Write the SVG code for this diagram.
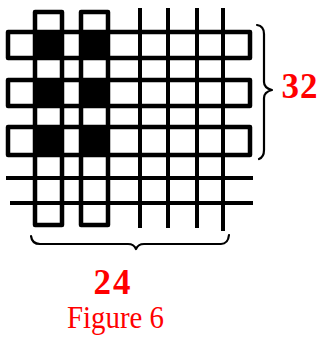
<svg xmlns="http://www.w3.org/2000/svg" width="320" height="338" viewBox="0 0 320 338">
<style>
.g{fill:none;stroke:#000;stroke-width:4;stroke-linecap:square}
.r{fill:none;stroke:#000;stroke-width:4.5;stroke-linejoin:round}
.f{fill:#000}
.b{fill:none;stroke:#000;stroke-width:2.2;stroke-linecap:round;stroke-linejoin:round}
.t{fill:#ff0000;font-family:"Liberation Serif","Times New Roman",serif}
</style>
<rect width="320" height="338" fill="#fff"/>
<g id="grid">
<g id="fills">
<rect class="f" x="35" y="32" width="27" height="26"/>
<rect class="f" x="81" y="32" width="27" height="26"/>
<rect class="f" x="35" y="80" width="27" height="26"/>
<rect class="f" x="81" y="80" width="27" height="26"/>
<rect class="f" x="35" y="127" width="27" height="28"/>
<rect class="f" x="81" y="127" width="27" height="28"/>
</g>
<g id="horizontal-strips">
<rect class="r" x="8" y="32" width="242" height="26"/>
<rect class="r" x="8" y="80" width="242" height="26"/>
<rect class="r" x="8" y="127" width="242" height="28"/>
<line class="g" x1="8" y1="178" x2="251" y2="178"/>
<line class="g" x1="12" y1="203" x2="251" y2="203"/>
</g>
<g id="vertical-strips">
<rect class="r" x="35" y="12" width="27" height="213"/>
<rect class="r" x="81" y="12" width="27" height="213"/>
<line class="g" x1="140" y1="10" x2="140" y2="226"/>
<line class="g" x1="168" y1="10" x2="168" y2="226"/>
<line class="g" x1="197" y1="10" x2="197" y2="226"/>
<line class="g" x1="223" y1="10" x2="223" y2="229"/>
</g>
</g>
<g id="brace-right">
<path class="b" d="M257,25 Q264,26 264,34 L264,82 Q264,88 272,90 Q264,92 264,98 L264,150 Q264,157 259,159"/>
</g>
<g id="brace-bottom">
<path class="b" d="M31,236 Q32,244 40,244 L128,244 Q134,244 136,249 Q138,244 144,244 L221,244 Q228,244 229,235"/>
</g>
<text class="t" x="300" y="98" font-size="35" font-weight="bold" text-anchor="middle" letter-spacing="1">32</text>
<text class="t" x="113" y="294" font-size="35" font-weight="bold" text-anchor="middle" letter-spacing="2">24</text>
<text class="t" x="67" y="328" font-size="32" textLength="97" lengthAdjust="spacingAndGlyphs">Figure 6</text>
</svg>
